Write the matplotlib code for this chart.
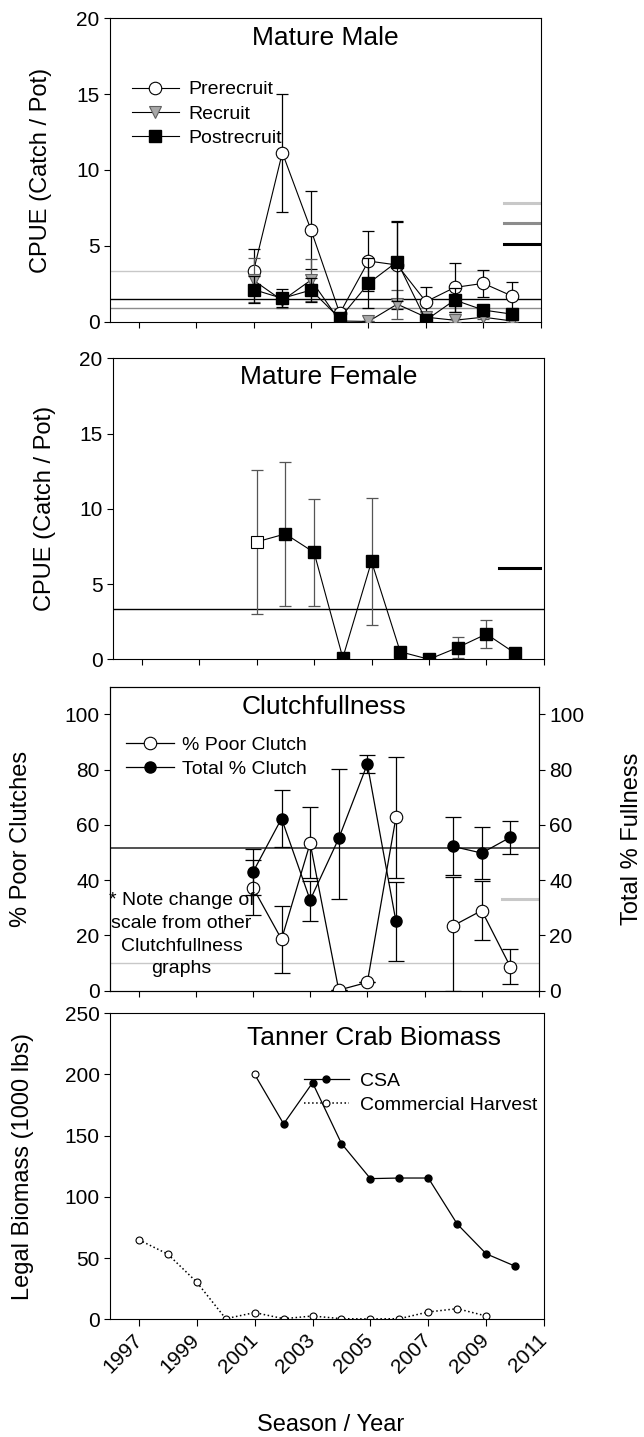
import numpy as np
import matplotlib
matplotlib.use("Agg")
import matplotlib.pyplot as plt

plt.rcParams["font.family"] = ["Liberation Sans", "DejaVu Sans"]

# Values
years = [2001, 2002, 2003, 2004, 2005, 2006, 2007, 2008, 2009, 2010]
tick_years = [1997, 1999, 2001, 2003, 2005, 2007, 2009, 2011]

# Mature male CPUE
prerecruit = [3.36, 11.14, 6.04, 0.55, 4.0, 3.74, 1.32, 2.26, 2.53, 1.69]
prerecruit_err = [1.45, 3.9, 2.55, 0.3, 2.0, 2.9, 1.0, 1.6, 0.9, 0.95]
recruit = [2.73, 1.4, 2.75, 0.05, 0.02, 1.16, 0.3, 0.1, 0.3, 0.05]
recruit_err = [1.45, 0.5, 1.4, 0.1, 0.0, 0.95, 0.2, 0.1, 0.15, 0.05]
postrecruit = [2.12, 1.54, 2.09, 0.22, 2.53, 3.96, 0.1, 1.43, 0.77, 0.5]
postrecruit_err = [0.9, 0.6, 0.8, 0.2, 1.65, 2.6, 0.1, 0.8, 0.3, 0.3]
male_avg = [3.36, 0.88, 1.49]      # prerecruit, recruit, postrecruit
male_level = [7.8, 6.48, 5.1]

# Mature female CPUE
female = [7.8, 8.33, 7.1, 0.1, 6.5, 0.5, 0.0, 0.78, 1.68, 0.4]
female_err = [4.8, 4.8, 3.55, 0.0, 4.2, 0.0, 0.0, 0.68, 0.95, 0.0]
female_avg = 3.32
female_level = 6.05

# Clutch fullness (no 2007 sample)
poor_clutch = [37.3, 18.6, 53.4, 0.2, 3.0, 62.7, np.nan, 23.5, 29.0, 8.7]
poor_err_lo = [9.9, 12.2, 12.6, 0.0, 0.0, 22.0, np.nan, 23.5, 10.7, 6.3]
poor_err_hi = [9.9, 12.2, 13.2, 0.0, 0.0, 22.0, np.nan, 17.6, 10.7, 6.3]
total_clutch = [42.9, 62.3, 32.8, 55.1, 82.0, 25.1, np.nan, 52.2, 49.8, 55.5]
total_err_lo = [8.3, 10.2, 7.5, 21.8, 3.3, 14.4, np.nan, 10.5, 9.5, 6.0]
total_err_hi = [8.3, 10.2, 7.0, 25.0, 3.3, 14.4, np.nan, 10.5, 9.5, 6.0]
total_avg = 51.6
poor_avg = 10.0
poor_level = 33.0

# Legal biomass
biomass_years = [1997, 1998, 1999, 2000, 2001, 2002, 2003,
                 2004, 2005, 2006, 2007, 2008, 2009, 2010]
csa = [np.nan, np.nan, np.nan, np.nan, 200.0, 159.6, 193.2,
       143.5, 114.9, 115.4, 115.4, 77.8, 53.5, 43.4]
harvest = [64.9, 53.2, 30.3, 0.5, 5.5, 0.5, 2.7,
           0.5, 0.3, 0.5, 6.0, 8.7, 2.7, np.nan]

LIGHT = "#c8c8c8"
MID = "#8c8c8c"
TICK_FS = 15
LABEL_FS = 17
TITLE_FS = 19
LEG_FS = 14

fig = plt.figure(figsize=(6.44, 14.37), dpi=100)
ax1 = fig.add_axes([0.1708, 0.7761, 0.669, 0.2112])
ax2 = fig.add_axes([0.1755, 0.5412, 0.669, 0.2095])
ax3 = fig.add_axes([0.1708, 0.3106, 0.666, 0.2115])
ax4 = fig.add_axes([0.1708, 0.0819, 0.674, 0.2130])


def style_axis(ax, ylim, yticks):
    ax.set_xlim(1996, 2011)
    ax.set_xticks(tick_years)
    ax.set_ylim(*ylim)
    ax.set_yticks(yticks)
    ax.tick_params(direction="out", length=4, width=0.8, labelsize=TICK_FS)
    for sp in ax.spines.values():
        sp.set_linewidth(0.8)


def set_ylabel(ax, text, x):
    ax.set_ylabel(text, fontsize=LABEL_FS)
    ax.yaxis.set_label_coords(x, 0.5)
    ax.yaxis.label.set_verticalalignment("center")


def add_legend(ax, handles, anchor, hlen, hpad):
    ax.legend(handles=handles, loc="upper left", bbox_to_anchor=anchor,
              borderaxespad=0, borderpad=0, frameon=False, fontsize=LEG_FS,
              handlelength=hlen, handletextpad=hpad, labelspacing=0.35)


# ---- Mature Male ----
style_axis(ax1, (0, 20), [0, 5, 10, 15, 20])
ax1.tick_params(labelbottom=False)
for val, lvl, col in zip(male_avg, male_level, [LIGHT, MID, "black"]):
    ax1.axhline(val, color=col, lw=1.0, zorder=1)
    ax1.axhline(lvl, xmin=0.914, xmax=1.0, color=col, lw=2.2, zorder=1)

ax1.errorbar(years, prerecruit, yerr=prerecruit_err, fmt="none", ecolor="black",
             elinewidth=0.9, capsize=4, capthick=0.9, zorder=2)
h_pre, = ax1.plot(years, prerecruit, "-o", color="black", lw=0.8, ms=9,
                  mfc="white", mec="black", mew=0.8, zorder=3, label="Prerecruit")
ax1.errorbar(years, recruit, yerr=recruit_err, fmt="none", ecolor="#555555",
             elinewidth=0.9, capsize=4, capthick=0.9, zorder=3.5)
h_rec, = ax1.plot(years, recruit, "-v", color="black", lw=0.8, ms=9,
                  mfc="#a8a8a8", mec="#606060", mew=0.8, zorder=4, label="Recruit")
ax1.errorbar(years, postrecruit, yerr=postrecruit_err, fmt="none", ecolor="black",
             elinewidth=0.9, capsize=4, capthick=0.9, zorder=4.5)
h_post, = ax1.plot(years, postrecruit, "-s", color="black", lw=0.8, ms=8.5,
                   mfc="black", mec="black", zorder=5, label="Postrecruit")
add_legend(ax1, [h_pre, h_rec, h_post], (0.051, 0.794), 2.4, 0.5)
ax1.text(0.5, 0.935, "Mature Male", transform=ax1.transAxes, ha="center",
         va="center", fontsize=TITLE_FS)
set_ylabel(ax1, "CPUE (Catch / Pot)", -0.160)

# ---- Mature Female ----
style_axis(ax2, (0, 20), [0, 5, 10, 15, 20])
ax2.tick_params(labelbottom=False)
ax2.axhline(female_avg, color="black", lw=1.0, zorder=1)
ax2.axhline(female_level, xmin=0.895, xmax=0.99, color="black", lw=2.2, zorder=1)
ax2.errorbar(years, female, yerr=female_err, fmt="none", ecolor="#555555",
             elinewidth=0.9, capsize=4, capthick=0.9, zorder=2)
ax2.plot(years, female, "-s", color="black", lw=0.8, ms=8.5, mfc="black",
         mec="black", markevery=slice(1, None), zorder=3)
ax2.plot(years[:1], female[:1], "s", ms=8, mfc="white", mec="black", mew=0.8,
         zorder=4)
ax2.text(0.5, 0.938, "Mature Female", transform=ax2.transAxes, ha="center",
         va="center", fontsize=TITLE_FS)
set_ylabel(ax2, "CPUE (Catch / Pot)", -0.158)

# ---- Clutchfullness ----
style_axis(ax3, (0, 110), [0, 20, 40, 60, 80, 100])
ax3.tick_params(labelbottom=False)
ax3.axhline(total_avg, color="#333333", lw=1.2, zorder=1)
ax3.axhline(poor_avg, color=LIGHT, lw=1.0, zorder=1)
ax3.axhline(poor_level, xmin=0.914, xmax=1.0, color=LIGHT, lw=2.2, zorder=1)

ax3.errorbar(years, poor_clutch, yerr=[poor_err_lo, poor_err_hi], fmt="none",
             ecolor="black", elinewidth=0.9, capsize=5.5, capthick=0.9, zorder=2)
h_poor, = ax3.plot(years, poor_clutch, "-o", color="black", lw=0.9, ms=9,
                   mfc="white", mec="black", mew=0.8, zorder=3,
                   label="% Poor Clutch")
ax3.errorbar(years, total_clutch, yerr=[total_err_lo, total_err_hi], fmt="none",
             ecolor="black", elinewidth=0.9, capsize=5.5, capthick=0.9, zorder=3.5)
h_total, = ax3.plot(years, total_clutch, "-o", color="black", lw=0.9, ms=8,
                    mfc="black", mec="black", zorder=4, label="Total % Clutch")
add_legend(ax3, [h_poor, h_total], (0.037, 0.838), 2.5, 0.4)
ax3.text(0.5, 0.933, "Clutchfullness", transform=ax3.transAxes, ha="center",
         va="center", fontsize=TITLE_FS)
ax3.text(1998.5, 20.3, "* Note change of\nscale from other\nClutchfullness\ngraphs",
         ha="center", va="center", fontsize=LEG_FS, linespacing=1.45, zorder=5)
set_ylabel(ax3, "% Poor Clutches", -0.207)

ax3r = ax3.twinx()
ax3r.set_ylim(0, 110)
ax3r.set_yticks([0, 20, 40, 60, 80, 100])
ax3r.tick_params(direction="out", length=4, width=0.8, labelsize=TICK_FS)
ax3r.set_ylabel("Total % Fullness", fontsize=LABEL_FS)
ax3r.yaxis.set_label_coords(1.217, 0.5)
ax3r.yaxis.label.set_verticalalignment("center")
ax3r.yaxis.label.set_rotation(90)

# ---- Tanner Crab Biomass ----
style_axis(ax4, (0, 250), [0, 50, 100, 150, 200, 250])
ax4.set_xticklabels([str(y) for y in tick_years], rotation=45, ha="right",
                    va="center", rotation_mode="anchor")
ax4.tick_params(axis="x", length=5, pad=8)
h_csa, = ax4.plot(biomass_years, csa, "-o", color="black", lw=0.9, ms=5,
                  mfc="black", mec="black", markevery=slice(5, None), zorder=3,
                  label="CSA")
ax4.plot(biomass_years[4:5], csa[4:5], "o", ms=5, mfc="white", mec="black",
         mew=0.8, zorder=4)
h_harv, = ax4.plot(biomass_years, harvest, ":o", color="black", lw=1.1, ms=5,
                   mfc="white", mec="black", mew=0.8, zorder=2,
                   label="Commercial Harvest")
add_legend(ax4, [h_csa, h_harv], (0.447, 0.808), 2.3, 0.6)
ax4.text(0.608, 0.919, "Tanner Crab Biomass", transform=ax4.transAxes,
         ha="center", va="center", fontsize=TITLE_FS)
set_ylabel(ax4, "Legal Biomass (1000 lbs)", -0.200)

fig.text(0.513, 1 - 1425 / 1437, "Season / Year", ha="center", va="center",
         fontsize=LABEL_FS)

fig.savefig("out.png", dpi=100)
plt.close(fig)
